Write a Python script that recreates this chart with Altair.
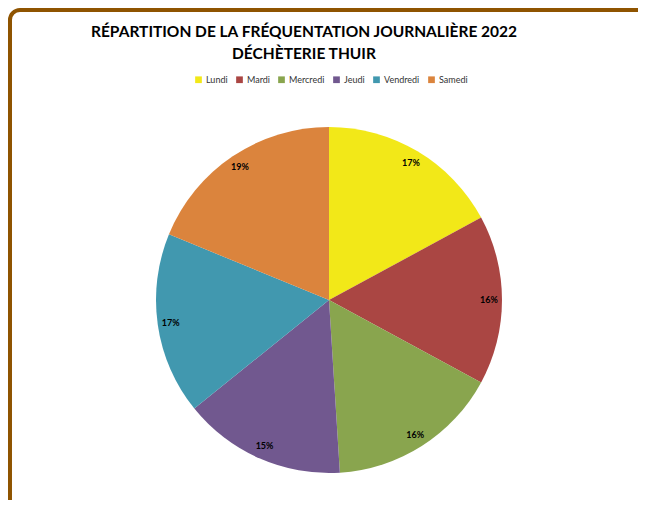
import altair as alt
import pandas as pd

days = ["Lundi", "Mardi", "Mercredi", "Jeudi", "Vendredi", "Samedi"]
shares = [17.1, 15.8, 16.1, 15.2, 17.0, 18.8]
colors = ["#F2E818", "#AA4643", "#89A54E", "#71588F", "#4198AF", "#DB843D"]
title_lines = ["RÉPARTITION DE LA FRÉQUENTATION JOURNALIÈRE 2022", "DÉCHÈTERIE THUIR"]

df = pd.DataFrame({"jour": days, "part": shares, "ordre": list(range(len(days)))})
df["label"] = [f"{round(v)}%" for v in shares]

FONT = "Lato"
CX, CY = 321, 292

base = alt.Chart(df).encode(
    theta=alt.Theta("part:Q", stack=True),
    order=alt.Order("ordre:Q"),
)

pie = base.mark_arc(outerRadius=173).encode(
    color=alt.Color(
        "jour:N",
        sort=days,
        scale=alt.Scale(domain=days, range=colors),
        legend=alt.Legend(
            title=None,
            orient="none",
            direction="horizontal",
            legendX=186,
            legendY=67,
            symbolType="square",
            symbolSize=45,
            symbolStrokeWidth=0,
            labelFont=FONT,
            labelFontSize=9,
            labelColor="#333333",
            columnPadding=7,
            symbolOffset=0,
            labelOffset=3,
        ),
    ),
    x=alt.value(CX),
    y=alt.value(CY),
)

labels = base.mark_text(
    radius=160, font=FONT, fontWeight="bold", fontSize=9, color="black"
).encode(text="label:N", x=alt.value(CX), y=alt.value(CY))

t1 = alt.Chart(alt.InlineData(values=[{"t": title_lines[0]}])).mark_text(
    font=FONT, fontWeight="bold", fontSize=15.5, color="black", baseline="middle"
).encode(text="t:N", x=alt.value(296), y=alt.value(24))

t2 = alt.Chart(alt.InlineData(values=[{"t": title_lines[1]}])).mark_text(
    font=FONT, fontWeight="bold", fontSize=15.5, color="black", baseline="middle"
).encode(text="t:N", x=alt.value(296), y=alt.value(46))

border = alt.Chart(alt.InlineData(values=[{"b": 1}])).mark_rect(
    fillOpacity=0, stroke="#8F5400", strokeWidth=4, cornerRadius=10
).encode(x=alt.value(2), x2=alt.value(640), y=alt.value(2), y2=alt.value(502))

chart = alt.layer(border, pie, labels, t1, t2).properties(
    width=630,
    height=492,
    padding=0,
    autosize=alt.AutoSizeParams(type="none"),
).configure_view(stroke=None)

chart.save("out.html", embed_options={"renderer": "svg", "actions": False})
